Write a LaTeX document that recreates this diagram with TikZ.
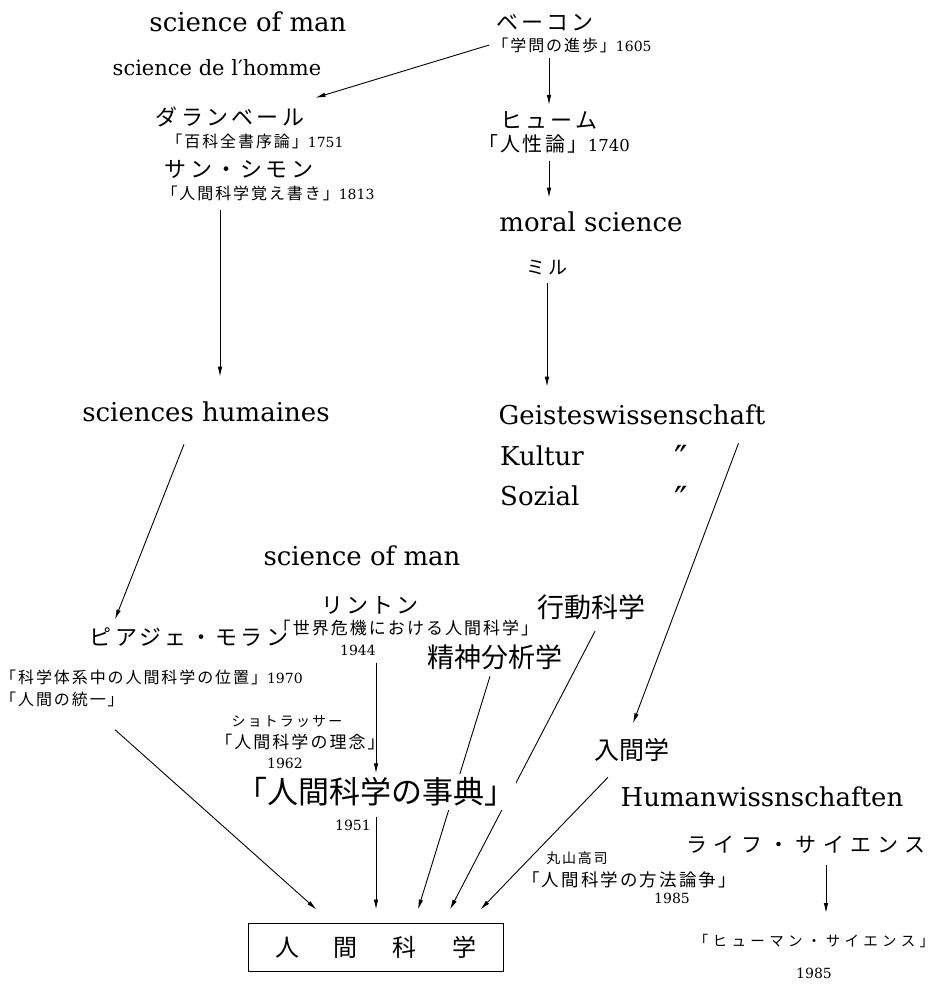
\documentclass[tikz,border=0pt]{standalone}
\usepackage{fontspec}
\setmainfont{DejaVu Serif}
\newfontfamily\jp{Noto Sans CJK JP}
\newfontfamily\jpa[LetterSpace=15]{Noto Sans CJK JP}
\newfontfamily\jpb[LetterSpace=30]{Noto Sans CJK JP}
\newfontfamily\jpt[LetterSpace=12]{Noto Sans CJK JP}
\usetikzlibrary{arrows.meta}

% bracketed Japanese title, optional size
\newcommand\jt[2][16]{{\jpt\fontsize{#1}{#1}\selectfont #2}}

\tikzset{
  lat/.style={inner sep=0pt, font=\fontsize{26}{30}\selectfont},
  latsm/.style={inner sep=0pt, font=\fontsize{21}{25}\selectfont},
  kname/.style={inner sep=0pt, font=\jpa\fontsize{22}{26}\selectfont},
  kana/.style={inner sep=0pt, font=\jpa\fontsize{14}{17}\selectfont},
  ttl/.style={inner sep=0pt, font=\fontsize{14}{17}\selectfont},
  yr/.style={inner sep=0pt, font=\fontsize{14}{17}\selectfont},
  big/.style={inner sep=0pt, font=\jp\fontsize{27}{30}\selectfont},
  ditto/.style={inner sep=0pt, font=\fontsize{36}{40}\selectfont},
  goalbox/.style={draw, line width=1pt, inner sep=0pt, minimum width=255pt,
    minimum height=48pt, font=\jp\fontsize{24}{28}\selectfont},
  arr/.style={-{Latex[length=10pt,width=4.5pt]}, line width=0.9pt}
}

\begin{document}
\begin{tikzpicture}[x=1pt,y=1pt]
    \useasboundingbox (0,0) rectangle (935,-985);

    % Left column: science of man -> sciences humaines
    \node[lat] (som1) at (248,-22) {science of man};
    \node[latsm] (sdh) at (217,-68) {science de l′homme};
    \node[kname] (dal) at (230,-117) {ダランベール};
    \node[ttl] (dalt) at (255,-141) {\jt{「百科全書序論」}1751};
    \node[kname] (stsimon) at (239,-169) {サン・シモン};
    \node[ttl] (stsimont) at (268,-193) {\jt{「人間科学覚え書き」}1813};
    \node[lat] (sh) at (206,-412) {sciences humaines};

    % Right column: Bacon -> Geisteswissenschaft
    \node[kname] (bacon) at (545,-23) {ベーコン};
    \node[ttl] (bacont) at (572,-45) {\jt{「学問の進歩」}1605};
    \node[kname] (hume) at (549,-120) {ヒューム};
    \node[ttl, font=\fontsize{16.5}{20}\selectfont] (humet) at (554,-144) {\jt[20]{「人性論」}1740};
    \node[lat] (moral) at (591,-222) {moral science};
    \node[kname, font=\jpa\fontsize{19}{22}\selectfont] (mill) at (547,-268) {ミル};
    \node[lat] (geist) at (632,-415) {Geisteswissenschaft};
    \node[lat, anchor=base west] (kultur) at (500,-465) {Kultur};
    \node[lat, anchor=base west] (sozial) at (500,-505) {Sozial};
    \node[ditto] (ditto1) at (681,-458) {″};
    \node[ditto] (ditto2) at (681,-499) {″};

    % Middle
    \node[lat] (som2) at (362,-556) {science of man};
    \node[kname] (linton) at (370,-605) {リントン};
    \node[ttl] (lintont) at (406,-628) {\jt[17]{「世界危機における人間科学」}};
    \node[yr] (y1944) at (358,-650) {1944};
    \node[kname] (piaget) at (189,-637) {ピアジェ・モラン};
    \node[ttl, anchor=west] (piagett1) at (0,-677) {\jt{「科学体系中の人間科学の位置」}1970};
    \node[ttl, anchor=west] (piagett2) at (0,-699) {\jt{「人間の統一」}};
    \node[big] (kodo) at (591,-607) {行動科学};
    \node[big] (seishin) at (495,-657) {精神分析学};
    \node[kana] (strasser) at (287,-722) {ショトラッサー};
    \node[ttl] (strassert) at (300,-742) {\jt[17]{「人間科学の理念」}};
    \node[yr] (y1962) at (285,-763) {1962};
    \node[big, font=\jp\fontsize{25}{28}\selectfont] (ningen) at (632,-750) {入間学};

    % Bottom right
    \node[lat] (humanw) at (762,-797) {Humanwissnschaften};
    \node[kname, font=\jpb\fontsize{21}{25}\selectfont] (life) at (806,-845) {ライフ・サイエンス};
    \node[ttl] (maru) at (577,-858) {\jt[14]{丸山高司}};
    \node[ttl] (marut) at (629,-880) {\jt[17.5]{「人間科学の方法論争」}};
    \node[yr] (y1985a) at (672,-898) {1985};
    \node[kana, font=\jpb\fontsize{14.5}{17}\selectfont] (humansci) at (814,-941) {「ヒューマン・サイエンス」};
    \node[yr] (y1985b) at (814,-973) {1985};

    % Goal
    \node[goalbox] (goal) at (375.5,-947) {人\hspace{35pt}間\hspace{35pt}科\hspace{35pt}学};

    % Arrows
    \draw[arr] ([xshift=-3pt]bacont.west) -- ([shift={(11pt,9pt)}]dal.north east);
    \draw[arr, shorten <=5pt, shorten >=6pt] (hume.north |- bacont.south) -- (hume.north);
    \draw[arr, shorten <=7.5pt, shorten >=14pt] (hume.north |- humet.south) -- (hume.north |- moral.north);
    \draw[arr] ([shift={(-48pt,-9pt)}]stsimont.south) -- ([shift={(14pt,25pt)}]sh.north);
    \draw[arr, shorten <=7.5pt, shorten >=18pt] (mill.south) -- (mill.south |- geist.north);
    \draw[arr] ([shift={(-22pt,-22pt)}]sh.south) -- ([shift={(-74pt,8pt)}]piaget.north);
    \draw[arr] ([shift={(-27pt,-18pt)}]geist.south east) -- ([shift={(1pt,15pt)}]ningen.north);
    \draw[arr] ([shift={(-9pt,-23pt)}]piagett2.south east) -- ([shift={(69pt,13pt)}]goal.north west);
    \draw[arr] ([shift={(-5pt,-6.5pt)}]seishin.south) -- ([shift={(42.5pt,13pt)}]goal.north);
    \draw[arr] ([shift={(4pt,-11.5pt)}]kodo.south) -- ([shift={(74.5pt,13pt)}]goal.north);
    \draw[arr] ([shift={(-24pt,-15.5pt)}]ningen.south) -- ([shift={(-23pt,13pt)}]goal.north east);
    \draw[arr] ([shift={(20pt,-11pt)}]life.south) -- ([shift={(12pt,21pt)}]humansci.north);

    % Dictionary label sits over the psychoanalysis line
    \node[big, font=\jp\fontsize{31}{34}\selectfont, fill=white, inner xsep=0pt, inner ysep=4pt] (jiten) at (376,-792) {「人間科学の事典」};
    \node[yr] (y1951) at (353,-825) {1951};
    \draw[arr, shorten <=7pt] (jiten.north |- y1944.south) -- (jiten.north);
    \draw[arr, shorten <=6.5pt, shorten >=13pt] (jiten.south) -- (jiten.south |- goal.north);
\end{tikzpicture}
\end{document}
